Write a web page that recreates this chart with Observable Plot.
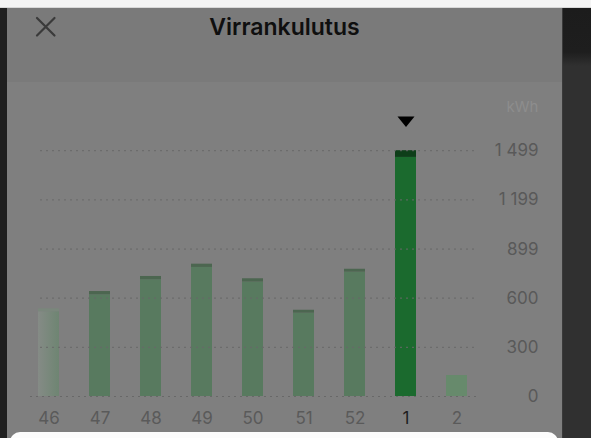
<!DOCTYPE html>
<html>
<head>
<meta charset="utf-8">
<script src="https://cdn.jsdelivr.net/npm/d3@7"></script>
<script src="https://cdn.jsdelivr.net/npm/@observablehq/plot@0.6"></script>
<style>
  html, body { margin: 0; padding: 0; }
  body { width: 591px; height: 438px; overflow: hidden; position: relative; background: #7f7f7f; font-family: Inter, "Liberation Sans", sans-serif; }
  .abs { position: absolute; }
  #topstrip { left: 0; top: 0; width: 591px; height: 8px; background: #f4f4f4; border-bottom: 1px solid #d8d8d8; box-sizing: border-box; }
  #leftstrip { left: 0; top: 8px; width: 7px; height: 430px; background: #1f1f1f; }
  #rightstrip { left: 562px; top: 8px; width: 29px; height: 430px; background: linear-gradient(to bottom, #1c1c1c 0px, #1e1e1e 44px, #303030 58px, #303030 100%); border-left: 1px solid #3a3a3a; box-sizing: border-box; }
  #header { left: 7px; top: 8px; width: 555px; height: 74px; background: #7a7a7a; }
  #title { left: 7px; top: 13px; width: 555px; text-align: center; font-weight: 600; font-size: 23px; color: #0f0f0f; line-height: 28px; }
  #close { left: 34px; top: 15px; }
  #chart { left: 0; top: 82px; }
  #card { left: 10px; top: 432px; width: 548px; height: 30px; background: #fcfcfc; border-radius: 10px; }
</style>
</head>
<body>
<div id="topstrip" class="abs"></div>
<div id="leftstrip" class="abs"></div>
<div id="rightstrip" class="abs"></div>
<div id="header" class="abs"></div>
<div id="title" class="abs"></div>
<svg id="close" class="abs" width="24" height="24" viewBox="0 0 24 24">
  <path d="M3 3 L20.5 20.5 M20.5 3 L3 20.5" stroke="#3a3a3a" stroke-width="2.2" stroke-linecap="round" fill="none"/>
</svg>
<div id="chart" class="abs"></div>
<div id="card" class="abs"></div>
<script>
// ---- data ----
const title = "Virrankulutus";
const unit = "kWh";
const weeks = ["46", "47", "48", "49", "50", "51", "52", "1", "2"];
const totals = [535, 640, 732, 807, 718, 526, 776, 1499, 128];
const caps = [18, 20, 20, 20, 20, 18, 18, 41, 0];
const yTicks = [0, 300, 600, 899, 1199, 1499];
const yTickLabels = ["0", "300", "600", "899", "1\u00a0199", "1\u00a0499"];
const selectedWeek = "1";

document.getElementById("title").textContent = title;

const rows = weeks.map((w, i) => ({ week: w, i, total: totals[i], cap: caps[i], base: totals[i] - caps[i] }));
const last = weeks.length - 1;

const baseFill = d => d.week === selectedWeek ? "#1b6a2e" : d.i === 0 ? "url(#fade)" : d.i === last ? "#678a6c" : "#587a5f";
const capFill = d => d.week === selectedWeek ? "#0e3e19" : d.i === 0 ? "#7a877c" : "#4c6650";

const downTriangle = {
  draw(context) {
    context.moveTo(-8.5, -5.3);
    context.lineTo(8.5, -5.3);
    context.lineTo(0, 5.3);
    context.closePath();
  }
};

const chart = Plot.plot({
  width: 591,
  height: 350,
  marginTop: 68.2,
  marginBottom: 36,
  marginLeft: 31.4,
  marginRight: 118.4,
  style: { background: "transparent", fontFamily: "Inter, 'Liberation Sans', sans-serif", overflow: "visible" },
  x: { domain: weeks, paddingInner: 0.59, paddingOuter: 0.1, axis: null },
  y: { domain: [0, 1499], axis: null },
  color: { type: "identity" },
  marks: [
    Plot.barY(rows, { x: "week", y1: 0, y2: "base", fill: baseFill }),
    Plot.barY(rows.filter(d => d.cap > 0), { x: "week", y1: "base", y2: "total", fill: capFill }),
    Plot.ruleY(yTicks.filter(d => d > 0), { y: d => d, stroke: "#686868", strokeWidth: 1, strokeDasharray: "2,4", insetLeft: 8.6, insetRight: -4.4 }),
    Plot.ruleY(yTicks.filter(d => d === 0), { y: d => d, stroke: "#686868", strokeWidth: 1, strokeDasharray: "2,4", insetLeft: -1.4, insetRight: -4.4 }),
    Plot.text(yTicks, { y: d => d, text: (d, i) => yTickLabels[i], frameAnchor: "right", dx: 65.4, textAnchor: "end", fill: "#595959", fontSize: 17 }),
    Plot.text(rows, { x: "week", text: "week", frameAnchor: "bottom", dy: 22.5, lineAnchor: "middle", fontSize: 17, fill: d => d.week === selectedWeek ? "#1e1e1e" : "#5a5a5a" }),
    Plot.text([unit], { text: d => d, frameAnchor: "top-right", dx: 65.4, dy: -49, textAnchor: "end", fill: "#8d8d8d", fontSize: 15 }),
    Plot.dot(rows.filter(d => d.week === selectedWeek), { x: "week", y: "total", dy: -29, symbol: downTriangle, r: 6, fill: "#000000", stroke: "none" })
  ]
});

const svg = d3.select(chart);
const grad = svg.insert("defs", ":first-child").append("linearGradient").attr("id", "fade").attr("x1", "0").attr("x2", "1").attr("y1", "0").attr("y2", "0");
grad.append("stop").attr("offset", "0").attr("stop-color", "#858b86");
grad.append("stop").attr("offset", "1").attr("stop-color", "#6e8572");

document.getElementById("chart").appendChild(chart);
</script>
</body>
</html>
